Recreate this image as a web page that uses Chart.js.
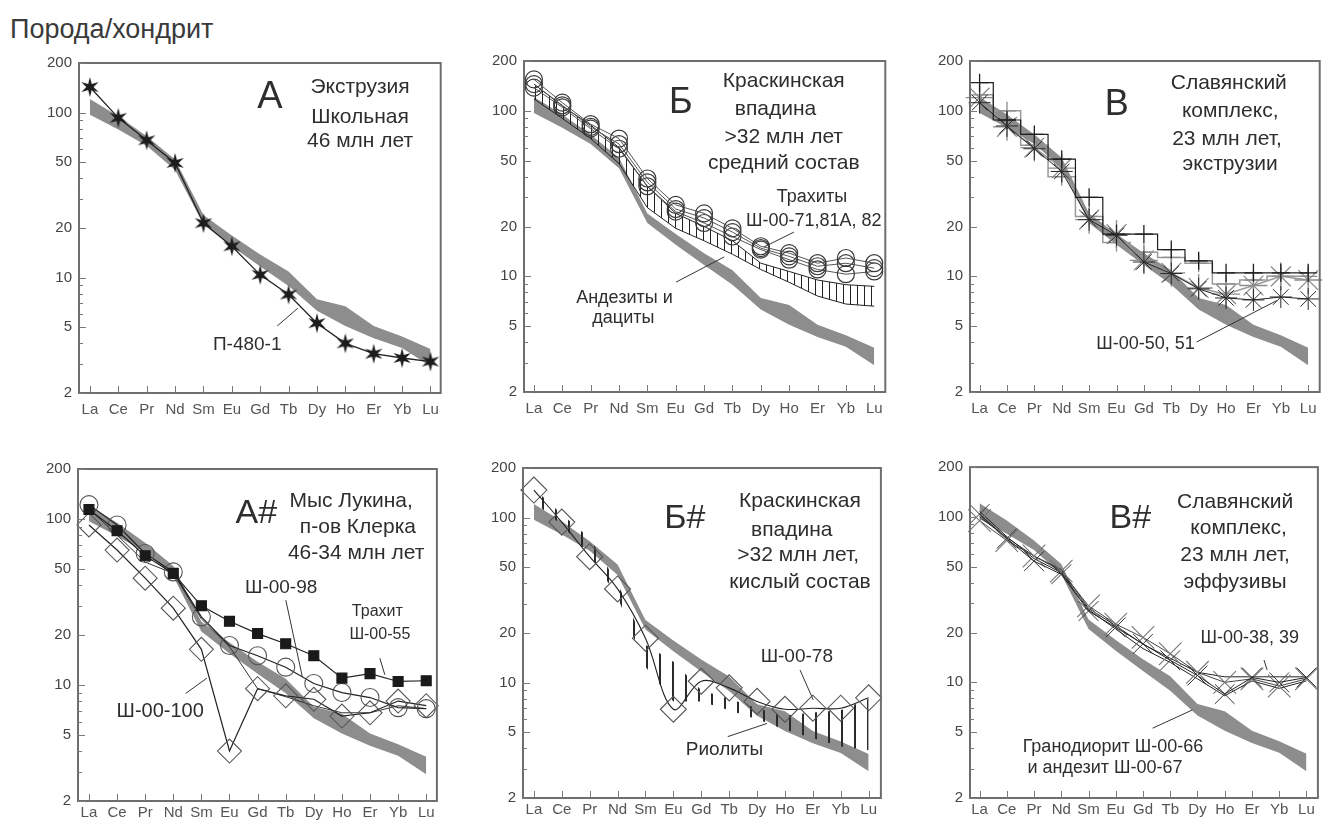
<!DOCTYPE html>
<html><head><meta charset="utf-8">
<script src="https://cdn.jsdelivr.net/npm/chart.js@4/dist/chart.umd.min.js"></script>
<style>
html,body{margin:0;padding:0;background:#fff;overflow:hidden;width:1333px;height:823px;position:relative;}
#title{position:absolute;left:10px;top:14px;font:27px "Liberation Sans",Arial,sans-serif;color:#3a3a3a;white-space:nowrap;}
</style></head><body>
<div id="title">Порода/хондрит</div>
<script>
// ---------- DATA ----------
const elements = ["La","Ce","Pr","Nd","Sm","Eu","Gd","Tb","Dy","Ho","Er","Yb","Lu"];
const yTickValues = [2,3,4,5,6,7,8,9,10,20,30,40,50,60,70,80,90,100,200];
const yTickLabels = [2,5,10,20,50,100,200];

// reference field (grey band), same in all panels
const bandHigh = [121, 95, 72, 52, 24, 18, 13.8, 10.9, 7.4, 6.7, 5.1, 4.4, 3.7];
const bandLow  = [97, 79, 63, 45, 21, 15.5, 11.7, 8.9, 6.3, 5.1, 4.3, 3.75, 2.9];

// A
const sP480 = [143, 93, 68, 49.6, 21.4, 15.5, 10.4, 7.9, 5.3, 4.0, 3.46, 3.26, 3.1];
// Б
const trach1 = [155, 112, 83, 68, 39, 27, 24, 19.5, 15.2, 13.8, 12, 12.9, 12];
const trach2 = [145, 108, 80, 63, 37, 25.5, 22.5, 18.5, 14.8, 13.2, 11.5, 12, 11.2];
const trach3 = [138, 105, 78, 59, 35, 24.6, 21, 17.4, 14.5, 12.6, 11, 10.3, 10.7];
const andUpper = [145, 107, 82, 60, 35, 24, 20, 16.4, 12, 10.7, 9.5, 8.9, 8.7];
const andLower = [118, 90, 68, 48, 26, 19.5, 16.4, 13.6, 11, 9.2, 7.6, 6.8, 6.6];
// В
const vStarBlack = [112, 81, 59, 43, 22, 17.7, 12.2, 10.4, 8.4, 7.4, 7.2, 7.5, 7.3];
const vStarGrey  = [120, 80, 60, 45, 22, 18, 12.5, 10.5, 8.5, 7.8, 8.8, 10, 9.5];
const vCrossBlack = [148, 88, 72, 51, 30, 18, 18, 14.5, 12.4, 10.5, 10.5, 10.5, 10.5];
const vCrossGrey  = [125, 100, 62, 40, 23, 16, 14, 13, 12, 9, 9.5, 10, 10];
// А#
const sq55  = [114, 85, 60, 47, 30, 24.2, 20.4, 17.7, 15, 11, 11.7, 10.5, 10.6];
const c98   = [122, 92, 62, 48, 25.7, 17.3, 15, 12.8, 10.2, 9, 8.4, 7.3, 7.2];
const d100  = [92, 65, 44, 29, 16.4, 4.0, 9.5, 8.6, 8.2, 6.5, 6.8, 8.0, 7.5];
const crA   = [115, 80, 55, 47, 25, 17, 9.5, 8.5, 7.5, 6.8, 6.8, 7.5, 7.2];
// Б#
const d78 = [147, 94, 58, 37, 18.6, 6.9, 10.2, 9.3, 7.7, 6.9, 7.0, 7.0, 8.1];
const rhyUpper = [150, 105, 75, 40, 17, 13.4, 9, 8, 7, 6.3, 6.6, 6.8, 8];
const rhyLower = [125, 90, 60, 33, 12.5, 7.7, 7.7, 6.8, 6, 5.2, 4.6, 4.1, 3.9];
// В#
const x38 = [95, 72, 58, 47, 29, 22.5, 18.7, 14.9, 11.5, 10, 10.5, 9.5, 10.5];
const x39 = [104, 74, 54, 45, 27, 21.5, 17.1, 13.6, 11, 8.5, 10.7, 10, 10.7];
const g66 = [100, 75, 58, 48, 28, 22, 17, 14, 11.5, 10.8, 10.8, 10.8, 10.8];
const g67 = [108, 76, 56, 46, 27.5, 21, 16, 13.2, 10.5, 8.3, 10.2, 9.2, 10.2];

// ---------- HELPERS ----------
const FONT = '"Liberation Sans", Arial, sans-serif';
Chart.defaults.font.family = FONT;
const pts = arr => arr.map((v,i)=>({x:i,y:v}));

function bandSets(){
  return [
    {data:pts(bandHigh), fill:'+1', backgroundColor:'#8d8d8d', borderWidth:0, pointRadius:0, order:30},
    {data:pts(bandLow), fill:false, borderWidth:0, pointRadius:0, order:31}
  ];
}
function hatch(spacing, lw, color){
  const c=document.createElement('canvas'); c.width=spacing; c.height=8;
  const g=c.getContext('2d'); g.fillStyle=color; g.fillRect(0,0,lw,8);
  return g.createPattern(c,'repeat');
}
function star6(R, r, color){
  const s=Math.ceil(2*R+2); const c=document.createElement('canvas'); c.width=s; c.height=s;
  const g=c.getContext('2d'); g.translate(s/2,s/2); g.beginPath();
  for(let k=0;k<12;k++){ const a=-Math.PI/2+k*Math.PI/6; const rr=(k%2===0)?R:r; g.lineTo(rr*Math.cos(a), rr*Math.sin(a)); }
  g.closePath(); g.fillStyle=color; g.fill(); return c;
}
function tallCross(w, h, color, lw){
  const c=document.createElement('canvas'); c.width=w; c.height=h;
  const g=c.getContext('2d'); g.strokeStyle=color; g.lineWidth=lw;
  g.beginPath(); g.moveTo(w/2,0); g.lineTo(w/2,h); g.moveTo(0,h/2); g.lineTo(w,h/2); g.stroke(); return c;
}
const clear = 'rgba(255,255,255,0)';

const decorPlugin = {
  id:'decor',
  afterDraw(chart, args, o){
    const {ctx, chartArea:a, scales:{x,y}} = chart;
    const W=a.right-a.left, H=a.bottom-a.top;
    ctx.save();
    ctx.strokeStyle='#6e6e6e'; ctx.lineWidth=2;
    ctx.strokeRect(a.left, a.top, W, H);
    ctx.lineWidth=1; ctx.strokeStyle='#7a7a7a';
    ctx.beginPath();
    yTickValues.forEach(v=>{ const py=Math.round(y.getPixelForValue(v))+0.5; const L=yTickLabels.includes(v)?7:4; ctx.moveTo(a.left,py); ctx.lineTo(a.left+L,py); });
    elements.forEach((_,i)=>{ const px=Math.round(x.getPixelForValue(i))+0.5; ctx.moveTo(px,a.bottom); ctx.lineTo(px,a.bottom-7); });
    ctx.stroke();
    ctx.strokeStyle='#333'; ctx.lineWidth=1; ctx.beginPath();
    (o.leaders||[]).forEach(l=>{ ctx.moveTo(a.left+l[0]*W, a.top+l[1]*H); ctx.lineTo(a.left+l[2]*W, a.top+l[3]*H); });
    ctx.stroke();
    ctx.textAlign='center'; ctx.textBaseline='middle'; ctx.fillStyle='#2e2e2e';
    (o.texts||[]).forEach(t=>{ ctx.font=`${t.size}px ${FONT}`; ctx.fillText(t.t, a.left+t.fx*W, a.top+t.fy*H); });
    ctx.restore();
  }
};

function makeChart(box, datasets, decor){
  const cv=document.createElement('canvas');
  cv.width=box.w; cv.height=box.h;
  cv.style.cssText=`position:absolute;left:${box.x}px;top:${box.y}px;width:${box.w}px;height:${box.h}px;`;
  document.body.appendChild(cv);
  return new Chart(cv,{
    type:'line',
    data:{datasets},
    options:{
      responsive:false, animation:false, devicePixelRatio:1,
      layout:{padding:{top:box.padTop,right:box.padRight,left:0,bottom:0}},
      plugins:{legend:{display:false}, tooltip:{enabled:false}, decor},
      elements:{line:{borderWidth:1,borderColor:'#262626',tension:0}, point:{radius:0}},
      scales:{
        x:{type:'linear', min:box.xMin, max:box.xMax, bounds:'data',
          afterBuildTicks:s=>{ s.ticks=elements.map((_,i)=>({value:i})); },
          afterFit:s=>{ s.height=box.xH; },
          grid:{display:false, drawTicks:false}, border:{display:false},
          ticks:{autoSkip:false, maxRotation:0, padding:box.labelPad, color:'#555', font:{size:15}, callback:v=>elements[v]}},
        y:{type:'logarithmic', min:2, max:200,
          afterBuildTicks:s=>{ s.ticks=yTickValues.map(v=>({value:v})); },
          afterFit:s=>{ s.width=box.yW; },
          grid:{display:false, drawTicks:false}, border:{display:false},
          ticks:{autoSkip:false, padding:7, color:'#444', font:{size:15}, callback:v=>yTickLabels.includes(v)?String(v):''}}
      }
    },
    plugins:[decorPlugin]
  });
}
const T = (t,fx,fy,size)=>({t,fx,fy,size});

// ---------- PANEL A ----------
makeChart({x:20,y:45,w:430,h:375,yW:59,padTop:18,padRight:7,xH:27,xMin:-0.385,xMax:12.36,labelPad:8},
  [...bandSets(),
   {data:pts(sP480), borderColor:'#222', borderWidth:1.3, pointStyle:star6(10,3.6,'#1c1c1c'), pointRadius:8, clip:false, order:1}],
  {texts:[T('А',0.528,0.106,38), T('Экструзия',0.777,0.074,21), T('Школьная',0.777,0.163,21), T('46 млн лет',0.777,0.238,21), T('П-480-1',0.465,0.855,19)],
   leaders:[[0.548,0.797,0.605,0.743]]});

// ---------- PANEL Б ----------
const circ = (d,o)=>({data:pts(d), borderColor:'#555', borderWidth:1, pointStyle:'circle', pointRadius:8.5, pointBorderColor:'#3a3a3a', pointBorderWidth:1.2, pointBackgroundColor:clear, clip:false, order:o});
makeChart({x:465,y:45,w:430,h:375,yW:59,padTop:15,padRight:8,xH:28,xMin:-0.35,xMax:12.39,labelPad:8},
  [...bandSets(),
   {data:pts(andUpper), fill:'+1', backgroundColor:hatch(7,1,'#222'), borderColor:'#222', borderWidth:1, pointRadius:0, order:20},
   {data:pts(andLower), fill:false, borderColor:'#222', borderWidth:1, pointRadius:0, order:21},
   circ(trach1,1), circ(trach2,2), circ(trach3,3)],
  {texts:[T('Б',0.434,0.126,36), T('Краскинская',0.719,0.062,21), T('впадина',0.696,0.146,21), T('>32 млн лет',0.719,0.229,21), T('средний состав',0.719,0.309,21),
          T('Трахиты',0.797,0.412,18), T('Ш-00-71,81А, 82',0.802,0.482,18), T('Андезиты и',0.278,0.715,18), T('дациты',0.275,0.778,18)],
   leaders:[[0.664,0.562,0.747,0.517],[0.421,0.668,0.554,0.592]]});

// ---------- PANEL В ----------
makeChart({x:911,y:45,w:424,h:375,yW:59,padTop:14,padRight:0,xH:28,xMin:-0.35,xMax:12.42,labelPad:8},
  [...bandSets(),
   {data:pts(vStarGrey), borderColor:'#9a9a9a', borderWidth:1.5, pointStyle:'star', pointRadius:14, pointBorderColor:'#8c8c8c', pointBorderWidth:1.3, clip:false, order:4},
   {data:pts(vCrossGrey), borderColor:'#9a9a9a', borderWidth:1.5, stepped:'middle', pointStyle:'cross', pointRadius:9, pointBorderColor:'#8a8a8a', pointBorderWidth:1.3, clip:false, order:3},
   {data:pts(vCrossBlack), borderColor:'#1e1e1e', borderWidth:1.2, stepped:'middle', pointStyle:'cross', pointRadius:9, pointBorderColor:'#1e1e1e', pointBorderWidth:1.3, clip:false, order:2},
   {data:pts(vStarBlack), borderColor:'#222', borderWidth:1, pointStyle:'star', pointRadius:11, pointBorderColor:'#2a2a2a', pointBorderWidth:1, clip:false, order:1}],
  {texts:[T('В',0.420,0.133,36), T('Славянский',0.740,0.068,21), T('комплекс,',0.744,0.153,21), T('23 млн лет,',0.735,0.235,21), T('экструзии',0.744,0.313,21), T('Ш-00-50, 51',0.502,0.854,18)],
   leaders:[[0.648,0.849,0.877,0.724]]});

// ---------- PANEL А# ----------
makeChart({x:19,y:450,w:431,h:373,yW:59,padTop:19,padRight:6,xH:22,xMin:-0.39,xMax:12.38,labelPad:3},
  [...bandSets(),
   {data:pts(crA), borderColor:'#333', borderWidth:1, pointStyle:tallCross(13,50,'#333',1.3), clip:false, order:4},
   {data:pts(d100), borderColor:'#222', borderWidth:1.2, pointStyle:'rectRot', pointRadius:12, pointBorderColor:'#555', pointBorderWidth:1.1, pointBackgroundColor:clear, clip:false, order:3},
   {data:pts(c98), borderColor:'#222', borderWidth:1.2, pointStyle:'circle', pointRadius:9, pointBorderColor:'#555', pointBorderWidth:1.1, pointBackgroundColor:clear, clip:false, order:2},
   {data:pts(sq55), borderColor:'#222', borderWidth:1.2, pointStyle:'rect', pointRadius:7, pointBorderColor:'#1a1a1a', pointBackgroundColor:'#1a1a1a', clip:false, order:1}],
  {texts:[T('А#',0.497,0.133,34), T('Мыс Лукина,',0.761,0.098,21), T('п-ов Клерка',0.780,0.174,21), T('46-34 млн лет',0.775,0.254,21),
          T('Ш-00-98',0.566,0.359,19), T('Трахит',0.834,0.430,16), T('Ш-00-55',0.841,0.500,16), T('Ш-00-100',0.229,0.731,20)],
   leaders:[[0.579,0.395,0.625,0.626],[0.841,0.570,0.855,0.620],[0.300,0.676,0.359,0.630]]});

// ---------- PANEL Б# ----------
makeChart({x:464,y:450,w:431,h:373,yW:59,padTop:18,padRight:10,xH:25,xMin:-0.39,xMax:12.44,labelPad:3},
  [...bandSets(),
   {data:pts(rhyUpper), fill:'+1', backgroundColor:hatch(13,2,'#2a2a2a'), borderWidth:0, pointRadius:0, order:20},
   {data:pts(rhyLower), fill:false, borderWidth:0, pointRadius:0, order:21},
   {data:pts(d78), borderColor:'#222', borderWidth:1.1, tension:0.35, pointStyle:'rectRot', pointRadius:13, pointBorderColor:'#555', pointBorderWidth:1.1, pointBackgroundColor:clear, clip:false, order:1}],
  {texts:[T('Б#',0.452,0.152,34), T('Краскинская',0.774,0.102,21), T('впадина',0.751,0.188,21), T('>32 млн лет,',0.769,0.264,21), T('кислый состав',0.774,0.345,21),
          T('Ш-00-78',0.765,0.572,19), T('Риолиты',0.563,0.855,19)],
   leaders:[[0.774,0.612,0.811,0.703],[0.572,0.814,0.682,0.774]]});

// ---------- PANEL В# ----------
makeChart({x:911,y:450,w:424,h:373,yW:59,padTop:17,padRight:0,xH:25,xMin:-0.35,xMax:12.42,labelPad:3},
  [...bandSets(),
   {data:pts(g66), borderColor:'#222', borderWidth:1, pointRadius:0, order:5},
   {data:pts(g67), borderColor:'#222', borderWidth:1, pointRadius:0, order:4},
   {data:pts(x38), borderColor:'#444', borderWidth:1, pointStyle:'crossRot', pointRadius:16, pointBorderColor:'#777', pointBorderWidth:1.1, clip:false, order:3},
   {data:pts(x39), borderColor:'#222', borderWidth:1, pointStyle:'crossRot', pointRadius:14, pointBorderColor:'#333', pointBorderWidth:1, clip:false, order:2}],
  {texts:[T('В#',0.461,0.155,34), T('Славянский',0.762,0.105,21), T('комплекс,',0.772,0.185,21), T('23 млн лет,',0.762,0.266,21), T('эффузивы',0.762,0.347,21),
          T('Ш-00-38, 39',0.804,0.517,18), T('Гранодиорит Ш-00-66',0.411,0.845,18), T('и андезит Ш-00-67',0.388,0.910,18)],
   leaders:[[0.525,0.789,0.639,0.734],[0.845,0.583,0.854,0.613]]});
</script>
</body></html>
